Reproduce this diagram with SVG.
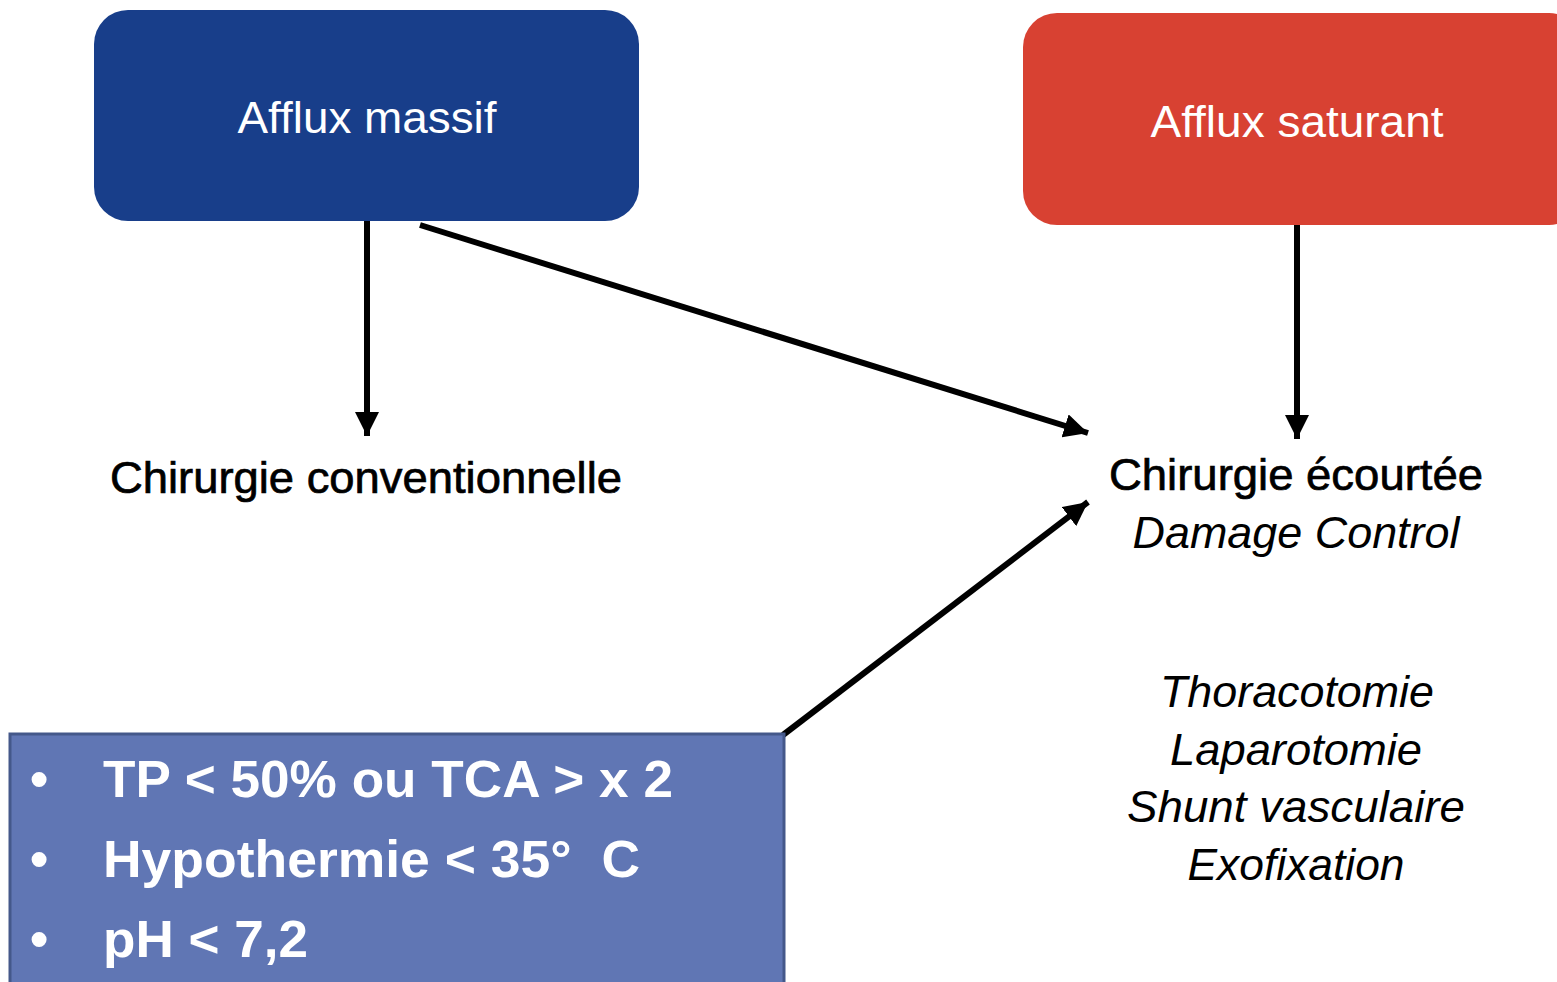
<svg xmlns="http://www.w3.org/2000/svg" width="1557" height="982" viewBox="0 0 1557 982">
<defs>
<marker id="ah" viewBox="0 0 10 10" refX="10" refY="5" markerWidth="4" markerHeight="4" markerUnits="strokeWidth" orient="auto">
<path d="M0,0 L10,5 L0,10 Z" fill="#000"/>
</marker>
<style>
.t{font-family:"Liberation Sans",Arial,sans-serif;}
.w{fill:#fff;font-size:44px;}
.k{fill:#000;font-size:44px;stroke:#000;stroke-width:0.7;}
.i{fill:#000;font-size:44px;font-style:italic;}
.b{fill:#fff;font-size:52px;font-weight:bold;white-space:pre;}
.conn line{stroke:#000;stroke-width:6;marker-end:url(#ah);}
</style>
</defs>
<rect width="1557" height="982" fill="#fff"/>
<g class="conn" id="connectors">
<line x1="367" y1="221" x2="367" y2="436"/>
<line x1="420" y1="225" x2="1088" y2="433"/>
<line x1="1297" y1="225" x2="1297" y2="439"/>
<line x1="783" y1="735" x2="1088" y2="502"/>
</g>
<g id="afflux-massif">
<rect x="94" y="10" width="545" height="211" rx="34" fill="#183E8A"/>
<text class="t w" x="367" y="133" text-anchor="middle" textLength="259" lengthAdjust="spacingAndGlyphs">Afflux massif</text>
</g>
<g id="afflux-saturant">
<rect x="1023" y="13" width="560" height="212" rx="34" fill="#D84132"/>
<text class="t w" x="1297" y="137" text-anchor="middle" textLength="293" lengthAdjust="spacingAndGlyphs">Afflux saturant</text>
</g>
<g id="chirurgie-conventionnelle">
<text class="t k" x="366" y="493" text-anchor="middle" textLength="512" lengthAdjust="spacingAndGlyphs">Chirurgie conventionnelle</text>
</g>
<g id="chirurgie-ecourtee">
<text class="t k" x="1296" y="490" text-anchor="middle" textLength="374" lengthAdjust="spacingAndGlyphs">Chirurgie écourtée</text>
<text class="t i" x="1296" y="548" text-anchor="middle" textLength="327" lengthAdjust="spacingAndGlyphs">Damage Control</text>
</g>
<g id="procedures">
<text class="t i" x="1297" y="707" text-anchor="middle" textLength="274" lengthAdjust="spacingAndGlyphs">Thoracotomie</text>
<text class="t i" x="1296" y="765" text-anchor="middle" textLength="252" lengthAdjust="spacingAndGlyphs">Laparotomie</text>
<text class="t i" x="1296" y="822" text-anchor="middle" textLength="338" lengthAdjust="spacingAndGlyphs">Shunt vasculaire</text>
<text class="t i" x="1296" y="880" text-anchor="middle" textLength="217" lengthAdjust="spacingAndGlyphs">Exofixation</text>
</g>
<g id="criteres">
<rect x="10" y="734" width="774" height="260" fill="#6076B4" stroke="#44588A" stroke-width="3"/>
<text class="t b" x="30" y="797">•</text>
<text class="t b" x="103" y="797" textLength="570" lengthAdjust="spacingAndGlyphs">TP &lt; 50% ou TCA &gt; x 2</text>
<text class="t b" x="30" y="877">•</text>
<text class="t b" x="103" y="877" textLength="537" lengthAdjust="spacingAndGlyphs" xml:space="preserve">Hypothermie &lt; 35°  C</text>
<text class="t b" x="30" y="957">•</text>
<text class="t b" x="103" y="957" textLength="205" lengthAdjust="spacingAndGlyphs">pH &lt; 7,2</text>
</g>
</svg>
